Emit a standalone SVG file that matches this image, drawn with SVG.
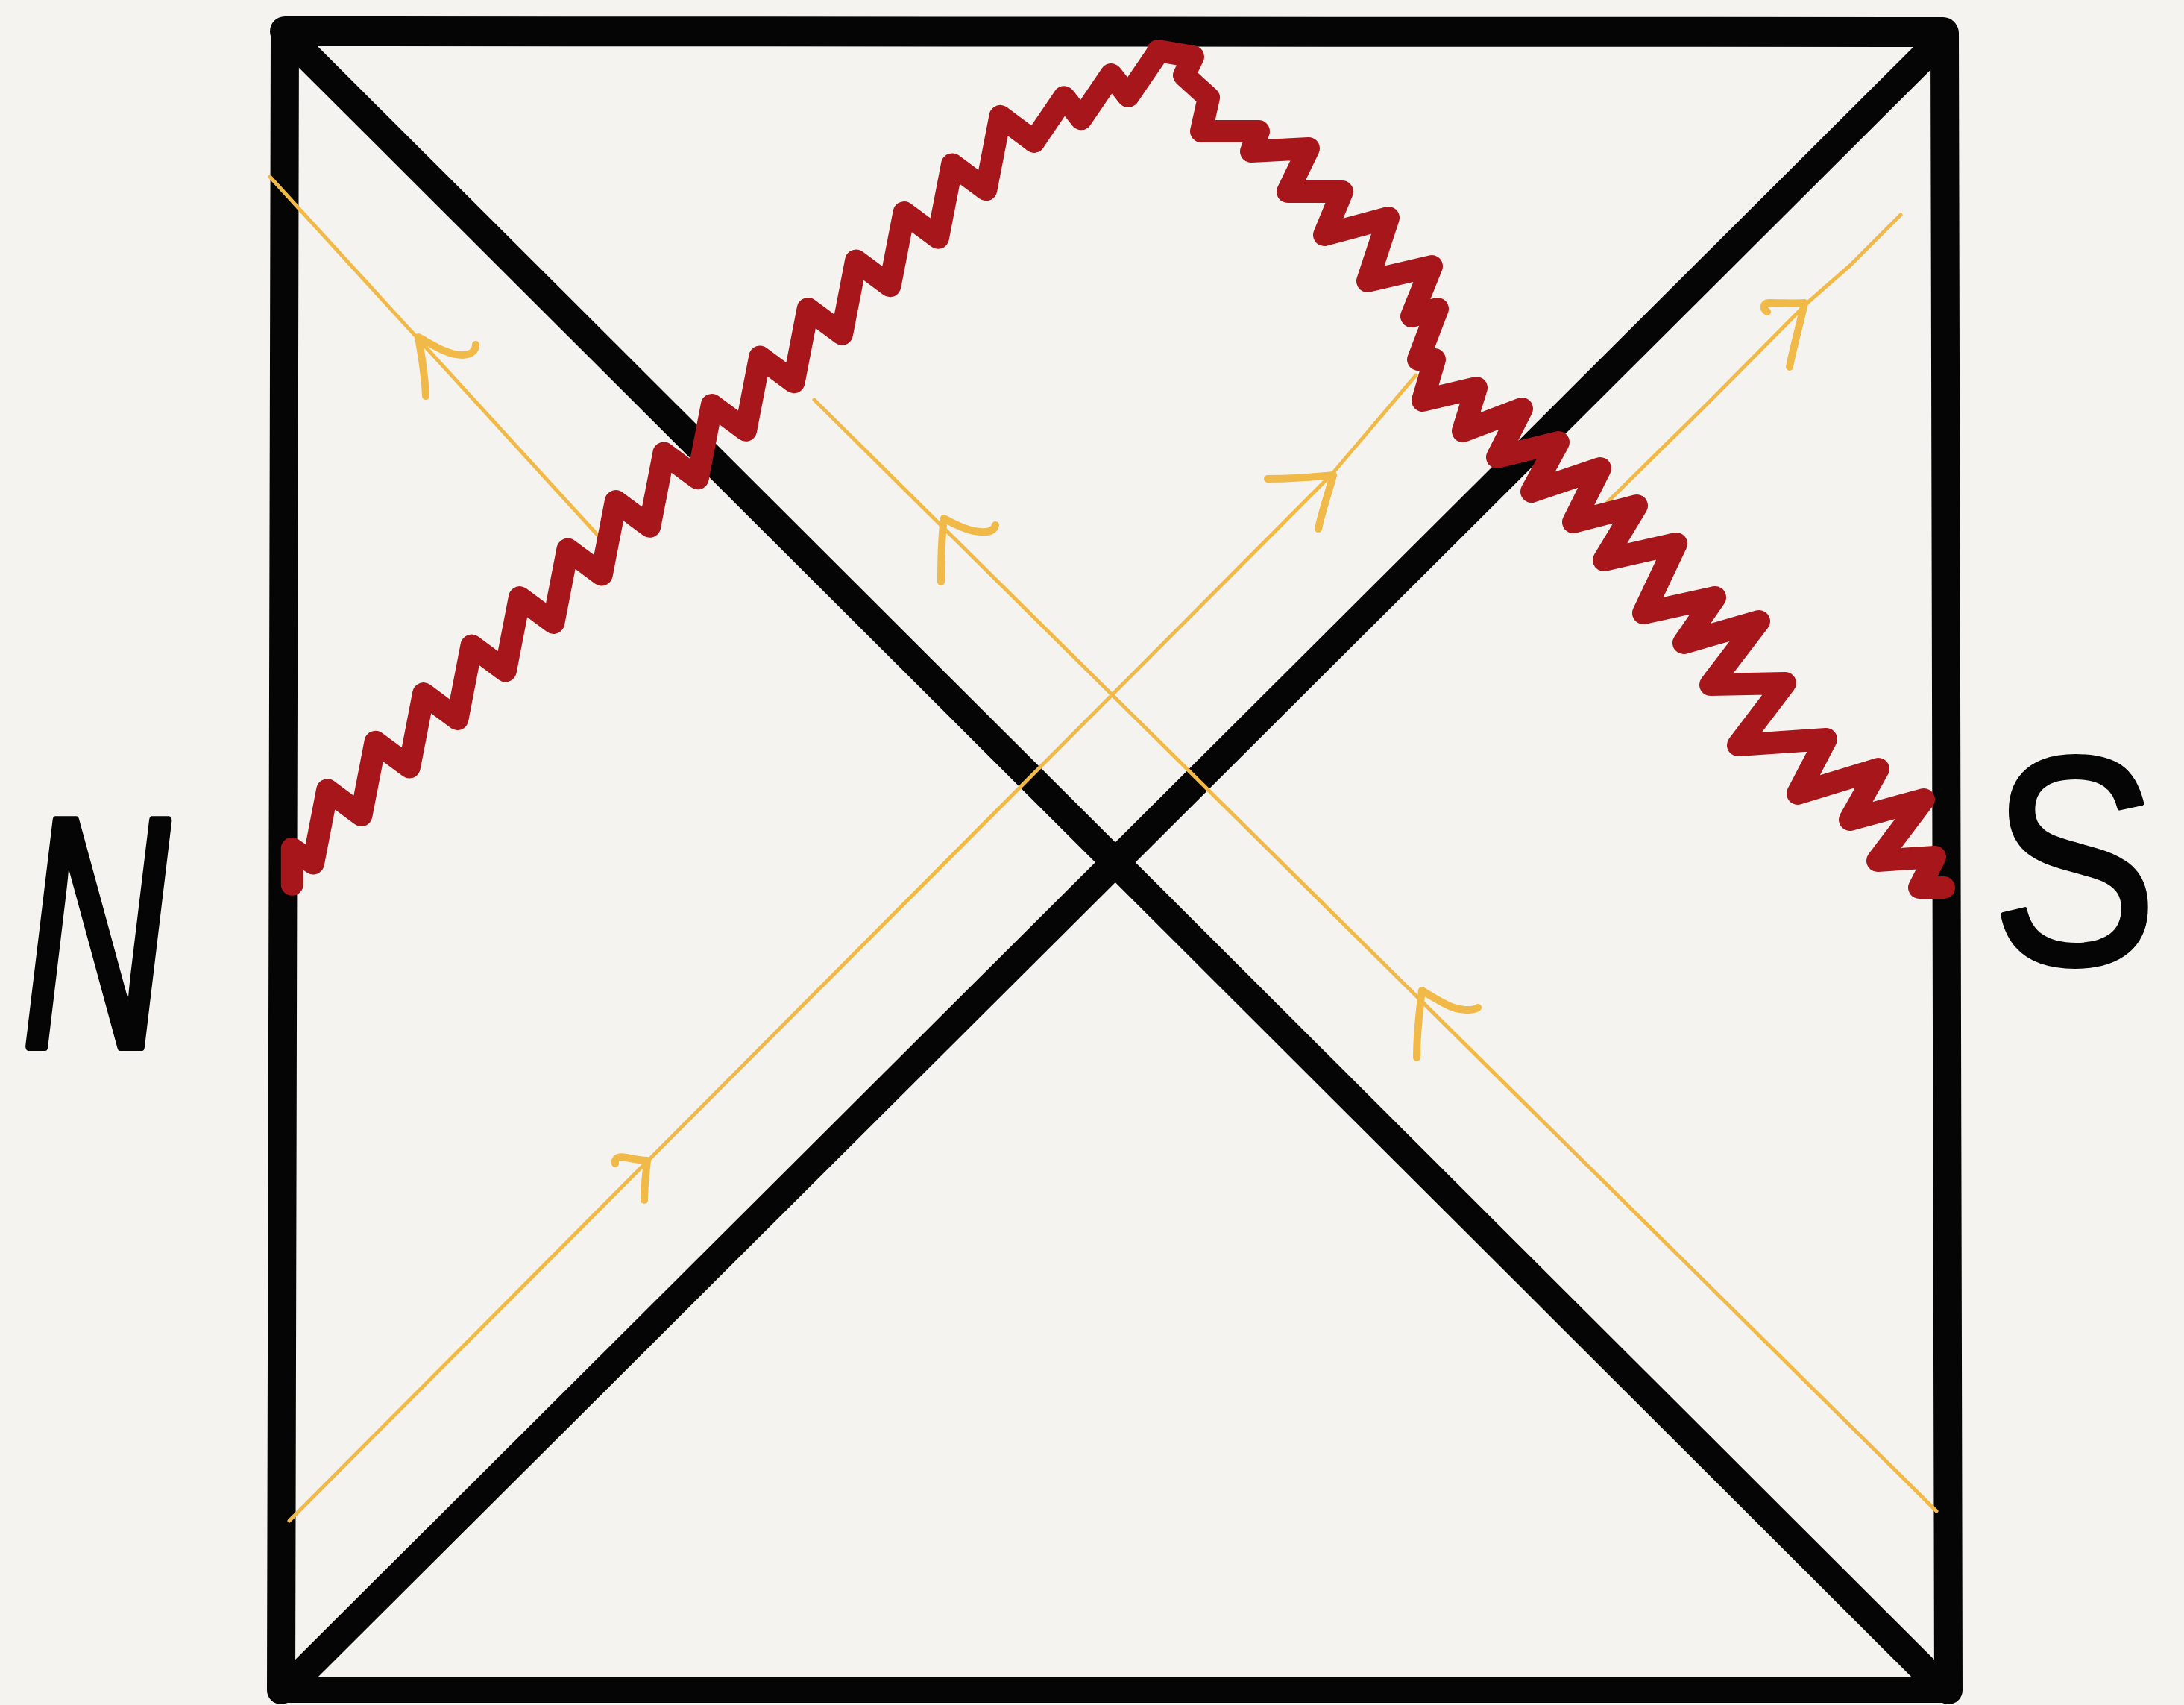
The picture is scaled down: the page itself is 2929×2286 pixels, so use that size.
<svg xmlns="http://www.w3.org/2000/svg" width="2929" height="2286" viewBox="0 0 2929 2286">
<style>
.blk{fill:none;stroke:#050505;stroke-linecap:round;stroke-linejoin:round}
.yel{fill:none;stroke:#F1BA48;stroke-width:5px;stroke-linecap:round;stroke-linejoin:round}
.arr{fill:none;stroke:#F1BA48;stroke-width:10px;stroke-linecap:round;stroke-linejoin:round}
.red{fill:none;stroke:#A6161B;stroke-width:30px;stroke-linecap:round;stroke-linejoin:round}
.lbl{font-family:"Liberation Sans",Arial,sans-serif;fill:#050505;stroke:#050505;stroke-linejoin:round;text-anchor:middle}
</style>
<rect x="0" y="0" width="2929" height="2286" fill="#F5F3EF"/>
<g id="frame">
<path class="blk" stroke-width="40" d="M382,42 L2606,43"/>
<path class="blk" stroke-width="38" d="M382,42 L377,2266"/>
<path class="blk" stroke-width="38" d="M2608,44 L2613,2266"/>
<path class="blk" stroke-width="34" d="M377,2266 L2613,2266"/>
<path class="blk" stroke-width="38" d="M395,58 L2598,2256"/>
<path class="blk" stroke-width="38" d="M2598,58 L392,2256"/>
</g>
<g id="light-rays">
<path class="yel" stroke-width="5" d="M362,237 L813,730"/>
<path class="yel" stroke-width="5" d="M388,2039 L1786,636 L1899,503"/>
<path class="yel" stroke-width="5" d="M1092,536 L2597,2026"/>
<path class="yel" stroke-width="5" d="M2156,673 L2290,541 L2425,405 L2481,356 L2549,288"/>
<path class="arr" stroke-width="10" d="M638,462 C638,470 632,476 620,476 C600,476 580,462 561,452 C566,480 570,505 571,531"/>
<path class="arr" stroke-width="10" d="M1335,704 C1333,712 1325,714 1315,713 C1298,712 1280,703 1266,695 C1262,725 1262,755 1262,780"/>
<path class="arr" stroke-width="10" d="M1982,1351 C1975,1356 1955,1355 1940,1347 C1928,1341 1915,1333 1907,1328 C1903,1360 1900,1390 1900,1418"/>
<path class="arr" stroke-width="10" d="M825,1560 C824,1552 830,1550 840,1552 C850,1554 860,1556 868,1556 C866,1575 864,1592 864,1609"/>
<path class="arr" stroke-width="10" d="M1700,642 C1730,642 1760,640 1788,637 C1782,660 1773,685 1768,709"/>
<path class="arr" stroke-width="10" d="M2370,418 C2364,414 2364,406 2372,406 C2390,406 2405,407 2420,406 C2414,435 2405,465 2400,492"/>
</g>
<g id="singularity">
<path class="red" stroke-width="30" transform="translate(372,1166) rotate(-45.03)" d="M0,28 l34,-34 l6,34 l83,-56 l8.2,56 l83,-56 l8.2,56 l83,-56 l8.2,56 l83,-56 l8.2,56 l83,-56 l8.2,56 l83,-56 l8.2,56 l83,-56 l8.2,56 l83,-56 l8.2,56 l83,-56 l8.2,56 l83,-56 l8.2,56 l83,-56 l8.2,56 l83,-56 l8.2,56 l83,-56 l8.2,56 l83,-56 l8.2,56 l83,-56 l8.2,56"/>
<path class="red" stroke-width="30" transform="translate(1379,173.4) rotate(-25.64)" d="M0,18 l62,-36 l8,36 l62,-36 l8,36 l62,-36"/>
<path class="red" stroke-width="30" d="M1553,68 L1600,76 L1588,101 L1621,131 L1611,176 L1688,176 L1678,203 L1755,199 L1727,257 L1800,257 L1776,315 L1862,292 L1834,377 L1920,357 L1893,424 L1928,414 L1902,482 L1924,482 L1908,537 L1980,520 L1962,578 L2041,548 L2008,613 L2090,593 L2054,659 L2146,628 L2110,700 L2195,678 L2151,751 L2248,729 L2204,822 L2300,801 L2258,862 L2359,833 L2294,918 L2394,916 L2331,999 L2449,991 L2411,1064 L2519,1031 L2481,1099 L2580,1072 L2518,1154 L2595,1149 L2574,1190 L2607,1190"/>
</g>
<g id="label-N">
<text class="lbl" transform="translate(128,1403) scale(0.62,1)" font-size="440" font-style="italic" stroke-width="12">N</text>
</g>
<g id="label-S">
<text class="lbl" transform="translate(2782,1292) scale(0.84,1)" font-size="398" stroke-width="6">S</text>
</g>
</svg>
